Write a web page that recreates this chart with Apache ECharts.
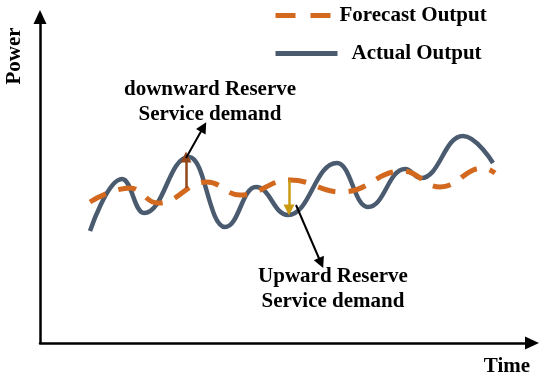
<!DOCTYPE html>
<html><head><meta charset="utf-8">
<script src="https://cdn.jsdelivr.net/npm/echarts@6/dist/echarts.min.js"></script>
<style>html,body{margin:0;padding:0;background:#fff}#c{width:550px;height:386px}</style>
</head><body><div id="c"></div>
<script>
// Time positions and power values (arbitrary units)
const actualTime  = [50, 82, 104, 149, 185, 216, 248, 297, 328, 365, 381, 423, 453];
const actualPower = [112, 164, 130, 186, 116, 156, 128, 180, 136, 174, 165, 207, 180];
const forecastTime  = [50, 90, 118, 167, 200, 250, 302, 363, 400, 443, 455];
const forecastPower = [141, 155, 140, 161, 148, 163, 151, 172, 156, 175, 170];
// reserve arrows: [time, from power, to power]
const downReserve = [146, 155, 186];
const upReserve = [249, 163, 133];
// pointer arrows: [t0, p0, t1, p1]
const downPointer = [146, 185, 163.5, 216];
const upPointer = [256, 138, 281, 80];

const FONT = {fontFamily: '"Liberation Serif", serif', fontWeight: 'bold', fontSize: 21, color: '#000'};
const zip = (a, b) => a.map((v, i) => [v, b[i]]);
const hiddenSymbol = {color: 'rgba(0,0,0,0)', borderColor: 'rgba(0,0,0,0)', borderWidth: 0, opacity: 0};

const chart = echarts.init(document.getElementById('c'), null, {renderer: 'canvas'});
chart.setOption({
  animation: false,
  grid: {left: 40, right: 18, top: 17, bottom: 43},
  xAxis: {type: 'value', min: 0, max: 492,
    axisLine: {lineStyle: {color: '#000', width: 2.5}, symbol: ['none', 'triangle'], symbolSize: [13, 14]},
    axisTick: {show: false}, axisLabel: {show: false}, splitLine: {show: false}},
  yAxis: {type: 'value', min: 0, max: 326,
    axisLine: {show: true, lineStyle: {color: '#000', width: 2.5}, symbol: ['none', 'triangle'], symbolSize: [13, 14]},
    axisTick: {show: false}, axisLabel: {show: false}, splitLine: {show: false}},
  legend: [
    {data: ['Forecast Output'], left: 273, top: 5, padding: 0, itemWidth: 59, itemHeight: 14, selectedMode: false,
      itemStyle: hiddenSymbol,
      lineStyle: {type: [20, 15], width: 5, cap: 'butt'}, textStyle: FONT},
    {data: ['Actual Output'], left: 273, top: 43, padding: 0, itemWidth: 62, itemHeight: 14, selectedMode: false,
      itemStyle: hiddenSymbol, lineStyle: {width: 5},
      textStyle: Object.assign({padding: [0, 0, 0, 9]}, FONT)}
  ],
  series: [
    {name: 'Actual Output', type: 'line', data: zip(actualTime, actualPower), smooth: 0.45, smoothMonotone: 'x',
      symbol: 'none', lineStyle: {color: '#4a5a6f', width: 4.5}, itemStyle: {color: '#4a5a6f'}, z: 2},
    {name: 'Forecast Output', type: 'line', data: zip(forecastTime, forecastPower), smooth: 0.45, smoothMonotone: 'x',
      symbol: 'none', lineStyle: {color: '#d2691f', width: 5, type: [18, 13], cap: 'butt'}, itemStyle: {color: '#d2691f'}, z: 3,
      markLine: {silent: true, symbol: ['none', 'triangle'], symbolSize: [11, 11], label: {show: false},
        data: [
          [{coord: [downReserve[0], downReserve[1]], lineStyle: {color: '#93461a', width: 2.5, type: 'solid'}},
           {coord: [downReserve[0], downReserve[2]]}],
          [{coord: [upReserve[0], upReserve[1]], lineStyle: {color: '#c99a12', width: 2.5, type: 'solid'}},
           {coord: [upReserve[0], upReserve[2]]}],
          [{coord: [downPointer[0], downPointer[1]], lineStyle: {color: '#000', width: 2, type: 'solid'}},
           {coord: [downPointer[2], downPointer[3]]}],
          [{coord: [upPointer[0], upPointer[1]], lineStyle: {color: '#000', width: 2, type: 'solid'}},
           {coord: [upPointer[2], upPointer[3]]}]
        ]}}
  ],
  graphic: [
    {type: 'text', x: 210, y: 90, style: {text: 'downward Reserve', fontFamily: FONT.fontFamily, fontWeight: 'bold', fontSize: 21, fill: '#000', align: 'center', verticalAlign: 'middle'}},
    {type: 'text', x: 210, y: 115, style: {text: 'Service demand', fontFamily: FONT.fontFamily, fontWeight: 'bold', fontSize: 21, fill: '#000', align: 'center', verticalAlign: 'middle'}},
    {type: 'text', x: 333, y: 277, style: {text: 'Upward Reserve', fontFamily: FONT.fontFamily, fontWeight: 'bold', fontSize: 21, fill: '#000', align: 'center', verticalAlign: 'middle'}},
    {type: 'text', x: 333, y: 302, style: {text: 'Service demand', fontFamily: FONT.fontFamily, fontWeight: 'bold', fontSize: 21, fill: '#000', align: 'center', verticalAlign: 'middle'}},
    {type: 'text', x: 15, y: 56, rotation: Math.PI / 2, style: {text: 'Power', fontFamily: FONT.fontFamily, fontWeight: 'bold', fontSize: 21, fill: '#000', align: 'center', verticalAlign: 'middle'}},
    {type: 'text', x: 507, y: 367, style: {text: 'Time', fontFamily: FONT.fontFamily, fontWeight: 'bold', fontSize: 21, fill: '#000', align: 'center', verticalAlign: 'middle'}}
  ]
});
</script></body></html>
